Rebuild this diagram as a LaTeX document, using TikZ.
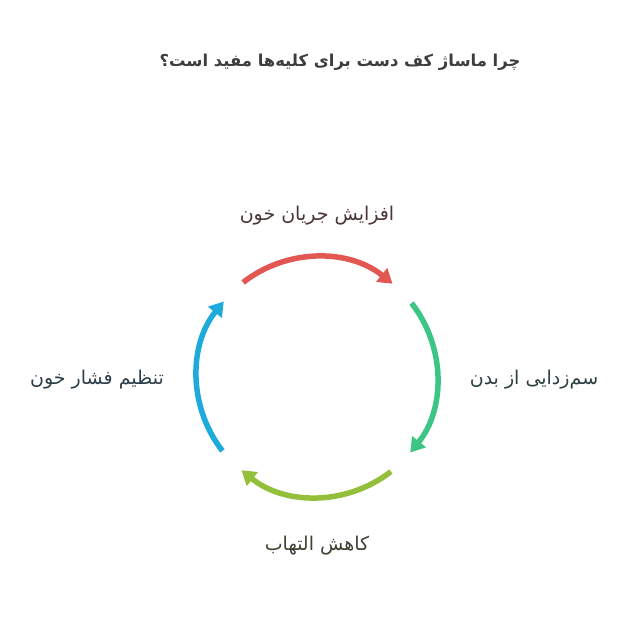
\documentclass[tikz,border=0pt]{standalone}
\usepackage{fontspec}
\usepackage{tikz}
\usetikzlibrary{arrows.meta}
\TeXXeTstate=1
\newfontfamily\arabicfont[Script=Arabic]{DejaVu Sans}

\definecolor{redarc}{HTML}{E25752}
\definecolor{greenarc}{HTML}{3CC584}
\definecolor{limearc}{HTML}{93BF3A}
\definecolor{bluearc}{HTML}{1EAADA}

\begin{document}
\begin{tikzpicture}[x=1pt,y=1pt,
    cyclearc/.style={line width=5.5pt,-{Triangle[length=14pt,width=17pt]}},
    steplabel/.style={font=\arabicfont\fontsize{19}{22}\selectfont}]
    \useasboundingbox (0,0) rectangle (635,620);

    \node [font=\arabicfont\bfseries\fontsize{16.4}{19}\selectfont, text=black!76] (title) at (340,558) {\beginR چرا ماساژ کف دست برای کلیه‌ها مفید است؟\endR};

    \coordinate (c) at (317,243);

    \draw [cyclearc, redarc, shift={(c)}] (128:120) arc (128:51:120); % top
    \draw [cyclearc, greenarc, shift={(c)}] (38:120) arc (38:-39:120); % right
    \draw [cyclearc, limearc, shift={(c)}] (-52:120) arc (-52:-129:120); % bottom
    \draw [cyclearc, bluearc, shift={(c)}] (218:120) arc (218:141:120); % left

    \node [steplabel, text={rgb,255:red,74;green,54;blue,54}] (blood) at (317,404) {\beginR افزایش جریان خون\endR};
    \node [steplabel, text={rgb,255:red,46;green,64;blue,64}] (detox) at (534,240) {\beginR سم‌زدایی از بدن\endR};
    \node [steplabel, text={rgb,255:red,63;green,64;blue,48}] (inflam) at (317,74) {\beginR کاهش التهاب\endR};
    \node [steplabel, text={rgb,255:red,44;green,62;blue,74}] (pressure) at (97,240) {\beginR تنظیم فشار خون\endR};
\end{tikzpicture}
\end{document}
